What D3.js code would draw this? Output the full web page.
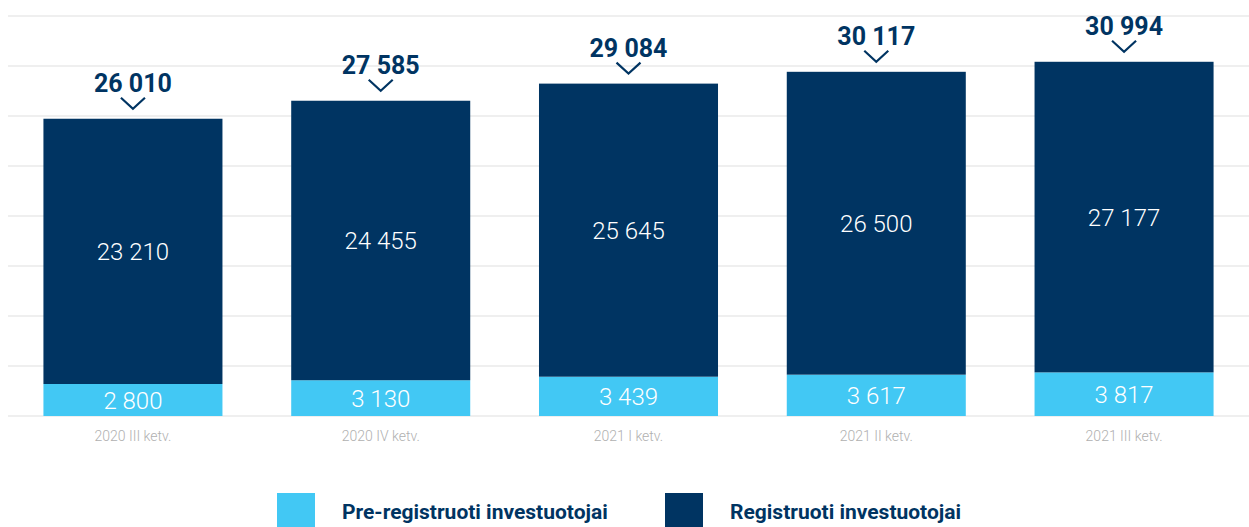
<!DOCTYPE html>
<html>
<head>
<meta charset="utf-8">
<script src="https://cdn.jsdelivr.net/npm/d3@7"></script>
<style>
  html, body { margin: 0; padding: 0; background: #fff; }
  svg { display: block; font-family: Roboto, "Noto Sans", sans-serif; }
</style>
</head>
<body>
<div id="chart"></div>
<script>
const width = 1249;
const height = 527;

const quarters = ["2020 III ketv.", "2020 IV ketv.", "2021 I ketv.", "2021 II ketv.", "2021 III ketv."];
const preRegistered = [2800, 3130, 3439, 3617, 3817];
const registered = [23210, 24455, 25645, 26500, 27177];
const seriesNames = ["Pre-registruoti investuotojai", "Registruoti investuotojai"];

const LIGHT = "#42c8f4";
const DARK = "#003462";

const fmt = d3.formatLocale({ decimal: ",", thousands: " ", grouping: [3], currency: ["", ""] }).format(",d");

const svg = d3.select("#chart")
  .append("svg")
  .attr("width", width)
  .attr("height", height);

const x = d3.scaleBand()
  .domain(quarters)
  .range([8, 1249])
  .paddingInner(0.2775)
  .paddingOuter(0.143);

const y = d3.scaleLinear()
  .domain([0, 35000])
  .range([416, 16]);

// grid lines
svg.append("g")
  .selectAll("line")
  .data(d3.range(0, 35001, 4375))
  .join("line")
  .attr("x1", 8)
  .attr("x2", width)
  .attr("y1", d => y(d))
  .attr("y2", d => y(d))
  .attr("stroke", "#efefef")
  .attr("stroke-width", 2);

const rows = quarters.map((q, i) => ({
  q,
  pre: preRegistered[i],
  reg: registered[i],
  total: preRegistered[i] + registered[i],
}));

const bars = svg.append("g")
  .selectAll("g")
  .data(rows)
  .join("g");

bars.append("rect")
  .attr("x", d => x(d.q))
  .attr("width", x.bandwidth())
  .attr("y", d => y(d.pre))
  .attr("height", d => y(0) - y(d.pre))
  .attr("fill", LIGHT);

bars.append("rect")
  .attr("x", d => x(d.q))
  .attr("width", x.bandwidth())
  .attr("y", d => y(d.total))
  .attr("height", d => y(d.pre) - y(d.total))
  .attr("fill", DARK);

bars.append("text")
  .attr("x", d => x(d.q) + x.bandwidth() / 2)
  .attr("y", d => (y(0) + y(d.pre)) / 2)
  .attr("dy", "0.36em")
  .attr("text-anchor", "middle")
  .attr("fill", "#fff")
  .attr("font-size", 24)
  .attr("font-weight", 300)
  .text(d => fmt(d.pre));

bars.append("text")
  .attr("x", d => x(d.q) + x.bandwidth() / 2)
  .attr("y", d => (y(d.pre) + y(d.total)) / 2)
  .attr("dy", "0.36em")
  .attr("text-anchor", "middle")
  .attr("fill", "#fff")
  .attr("font-size", 24)
  .attr("font-weight", 300)
  .text(d => fmt(d.reg));

// total labels with chevron
bars.append("text")
  .attr("x", d => x(d.q) + x.bandwidth() / 2)
  .attr("y", d => y(d.total) - 27)
  .attr("text-anchor", "middle")
  .attr("fill", DARK)
  .attr("font-size", 25)
  .attr("font-weight", 700)
  .text(d => fmt(d.total));

bars.append("path")
  .attr("d", d => {
    const cx = x(d.q) + x.bandwidth() / 2;
    const top = y(d.total);
    return `M${cx - 12},${top - 21}L${cx},${top - 10}L${cx + 12},${top - 21}`;
  })
  .attr("fill", "none")
  .attr("stroke", DARK)
  .attr("stroke-width", 2.2);

// x labels
svg.append("g")
  .selectAll("text")
  .data(quarters)
  .join("text")
  .attr("x", d => x(d) + x.bandwidth() / 2)
  .attr("y", 441)
  .attr("text-anchor", "middle")
  .attr("fill", "#b0b0b0")
  .attr("font-size", 14)
  .attr("font-weight", 300)
  .text(d => d);

// legend
const legendItems = [
  { name: seriesNames[0], color: LIGHT, x: 277 },
  { name: seriesNames[1], color: DARK, x: 665 },
];

const legend = svg.append("g")
  .selectAll("g")
  .data(legendItems)
  .join("g")
  .attr("transform", d => `translate(${d.x}, 493)`);

legend.append("rect")
  .attr("width", 38)
  .attr("height", 36)
  .attr("fill", d => d.color);

legend.append("text")
  .attr("x", 65)
  .attr("y", 26)
  .attr("fill", DARK)
  .attr("font-size", 21)
  .attr("font-weight", 700)
  .text(d => d.name);
</script>
</body>
</html>
